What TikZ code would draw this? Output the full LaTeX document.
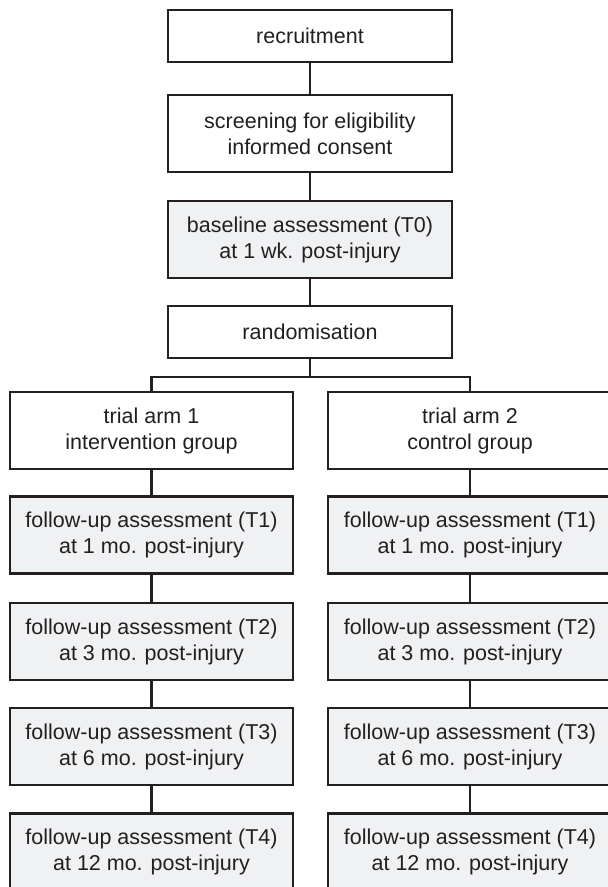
\documentclass[tikz,border=0pt]{standalone}
\usepackage{fontspec}
\setmainfont{Liberation Sans}
\definecolor{ink}{RGB}{35,31,32}
\definecolor{boxgray}{RGB}{240,241,243}
\begin{document}
\begin{tikzpicture}[x=1pt,y=-1pt,
  box/.style={draw=ink,line width=2.2pt,text=ink,align=center,inner sep=0pt,
    font=\fontsize{21.5}{26}\selectfont,minimum width=284pt},
  tall/.style={box,minimum height=77pt},
  short/.style={box,minimum height=52pt},
  shade/.style={fill=boxgray},
  link/.style={draw=ink,line width=2.2pt}]
\useasboundingbox[fill=white] (0,0) rectangle (608,887);
\begin{scope}
\clip (0,0) rectangle (608,887);
\node[short] (rec) at (310,36) {recruitment};
\node[tall] (scr) at (310,133.5) {screening for eligibility\\informed consent};
\node[tall,shade] (base) at (310,239.5) {baseline assessment (T0)\\at 1 wk. post-injury};
\node[short] (rand) at (310,332) {randomisation};
\coordinate (br) at (310,377);
\node[tall,minimum width=283pt] (armA) at (151.5,430.5) {trial arm 1\\intervention group};
\node[tall] (armB) at (470,430.5) {trial arm 2\\control group};
\node[tall,shade,minimum width=283pt] (a1) at (151.5,535) {follow-up assessment (T1)\\at 1 mo. post-injury};
\node[tall,shade,minimum width=283pt] (a2) at (151.5,641.5) {follow-up assessment (T2)\\at 3 mo. post-injury};
\node[tall,shade,minimum width=283pt] (a3) at (151.5,746.5) {follow-up assessment (T3)\\at 6 mo. post-injury};
\node[tall,shade,minimum width=283pt] (a4) at (151.5,852) {follow-up assessment (T4)\\at 12 mo. post-injury};
\node[tall,shade] (b1) at (470,535) {follow-up assessment (T1)\\at 1 mo. post-injury};
\node[tall,shade] (b2) at (470,641.5) {follow-up assessment (T2)\\at 3 mo. post-injury};
\node[tall,shade] (b3) at (470,746.5) {follow-up assessment (T3)\\at 6 mo. post-injury};
\node[tall,shade] (b4) at (470,852) {follow-up assessment (T4)\\at 12 mo. post-injury};
\draw[link] (rec) -- (scr);
\draw[link] (scr) -- (base);
\draw[link] (base) -- (rand);
\draw[link] (rand.south) -- (br);
\draw[link] (br) -| (armA.north);
\draw[link] (br) -| (armB.north);
\draw[link] (armA) -- (a1);
\draw[link] (a1) -- (a2);
\draw[link] (a2) -- (a3);
\draw[link] (a3) -- (a4);
\draw[link] (armB) -- (b1);
\draw[link] (b1) -- (b2);
\draw[link] (b2) -- (b3);
\draw[link] (b3) -- (b4);
\end{scope}
\end{tikzpicture}
\end{document}
